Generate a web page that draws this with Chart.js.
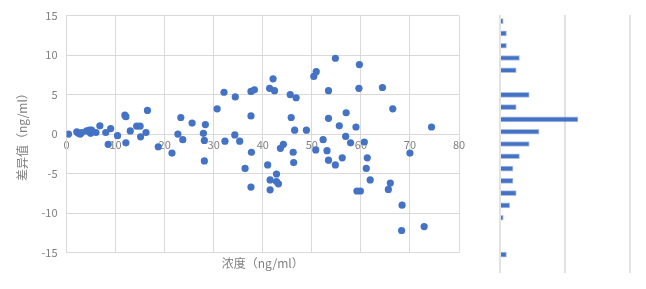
<!DOCTYPE html>
<html>
<head>
<meta charset="utf-8">
<script src="https://cdn.jsdelivr.net/npm/chart.js@4/dist/chart.umd.min.js"></script>
<style>
  body { margin: 0; background: #fff; }
  #wrap { position: relative; width: 646px; height: 289px; }
  #scatter { position: absolute; left: 0; top: 0; }
  #hist { position: absolute; left: 480px; top: 0; }
</style>
</head>
<body>
<div id="wrap">
  <canvas id="scatter" width="480" height="289"></canvas>
  <canvas id="hist" width="166" height="289"></canvas>
</div>
<script>
// concentration (x) and difference (y)
var concX = [
  0.4, 2.1, 2.4, 2.8, 3.1, 4.1, 4.7, 4.9, 5.1, 6.0,
  6.8, 8.0, 9.0, 10.4, 11.9, 12.1, 13.0, 14.3, 15.0, 15.1,
  16.2, 16.5, 12.1, 8.5, 18.7, 21.5, 22.7, 23.3, 23.7, 25.6,
  28.3, 27.9, 28.1, 30.7, 32.1, 32.3, 34.4, 34.3, 35.3, 37.6,
  38.3, 37.6, 37.7, 41.4, 42.1, 42.4, 43.6, 44.2, 45.6, 46.8,
  45.8, 46.5, 48.9, 46.2, 50.4, 50.9, 52.3, 50.8, 28.1, 36.4,
  37.6, 41.0, 41.5, 41.5, 42.8, 42.8, 43.2, 46.3, 54.8, 59.7,
  53.4, 59.6, 64.4, 66.5, 53.4, 57.0, 55.6, 59.0, 74.4, 56.9,
  57.9, 60.7, 53.1, 70.0, 53.4, 54.8, 56.2, 61.3, 61.1, 61.9,
  59.2, 59.9, 66.0, 65.6, 68.4, 68.3, 72.9
];
var diffY = [
  0, 0.3, 0.1, 0, 0.2, 0.4, 0.5, 0.1, 0.5, 0.2,
  1.05, 0.2, 0.7, -0.2, 2.4, 2.2, 0.4, 1.0, 1.0, -0.35,
  0.2, 3.0, -1.1, -1.3, -1.6, -2.4, 0, 2.1, -0.7, 1.4,
  1.2, 0.1, -0.8, 3.2, 5.3, -0.9, 4.7, -0.1, -0.9, 5.4,
  5.6, 2.3, -2.3, 5.8, 7.0, 5.5, -1.8, -1.3, 5.0, 4.6,
  2.1, 0.5, 0.5, -2.3, 7.3, 7.9, -0.7, -2.0, -3.4, -4.35,
  -6.7, -3.9, -5.8, -7.05, -5.05, -6.0, -6.3, -3.6, 9.6, 8.8,
  5.5, 5.8, 5.9, 3.2, 2.0, 2.7, 1.05, 0.9, 0.9, -0.3,
  -1.1, -1.0, -2.1, -2.4, -3.3, -3.9, -3.0, -3.0, -4.35, -5.8,
  -7.2, -7.2, -6.2, -7.0, -9.0, -12.2, -11.7
];

// histogram of the differences, top bin first
var histBins = ['1', '2', '3', '4', '5', '6', '7', '8', '9', '10', '11',
  '12', '13', '14', '15', '16', '17', '18', '19', '20', '21'];
var histCounts = [1, 2, 2, 6, 5, 0, 9, 5, 24, 12, 9, 6, 4, 4, 5, 3, 1, 0, 0, 2, 0];

var blue = '#4472C4';
var gridGray = '#d9d9d9';
var textGray = '#7f7f7f';

Chart.defaults.font.family = '"Noto Sans CJK SC", "Noto Sans", sans-serif';
Chart.defaults.color = textGray;

//--------------- scatter ---------------//
var points = concX.map(function (x, i) {
  return { x: x, y: diffY[i] };
});

const scatter = new Chart(document.getElementById('scatter'), {
  type: 'scatter',
  data: {
    datasets: [{
      data: points,
      backgroundColor: blue,
      borderColor: blue,
      pointRadius: 3.6,
      borderWidth: 0
    }]
  },
  options: {
    responsive: false,
    animation: false,
    layout: { padding: { left: 8, top: 15, right: 21, bottom: 18 } },
    plugins: { legend: { display: false }, tooltip: { enabled: false } },
    scales: {
      x: {
        type: 'linear',
        position: { y: 0 },
        min: 0, max: 80,
        ticks: { stepSize: 10, font: { size: 11 }, padding: 4, maxRotation: 0 },
        grid: { color: gridGray, drawTicks: false },
        border: { display: false }
      },
      x2: {
        type: 'linear',
        position: 'bottom',
        ticks: { display: false },
        grid: { display: false, drawTicks: false },
        border: { display: false },
        title: { display: true, text: '浓度（ng/ml）', font: { size: 12 }, color: textGray, padding: { top: 4, bottom: 0 } }
      },
      y: {
        min: -15, max: 15,
        ticks: { stepSize: 5, font: { size: 11 }, padding: 9 },
        grid: { color: gridGray, drawTicks: false },
        border: { color: gridGray },
        title: { display: true, text: '差异值（ng/ml）', font: { size: 12 }, color: textGray, padding: { top: 7, bottom: 0 } },
        afterFit: function (scale) { scale.width = 58.5; }
      }
    }
  }
});

//--------------- histogram ---------------//
const hist = new Chart(document.getElementById('hist'), {
  type: 'bar',
  data: {
    labels: histBins,
    datasets: [{
      data: histCounts,
      backgroundColor: blue,
      borderColor: 'rgba(68,114,196,0.45)',
      borderWidth: 1,
      barThickness: 5
    }]
  },
  options: {
    indexAxis: 'y',
    responsive: false,
    animation: false,
    layout: { padding: { left: 20, right: 16, top: 15, bottom: 16 } },
    plugins: { legend: { display: false }, tooltip: { enabled: false } },
    scales: {
      x: {
        min: 0, max: 40,
        ticks: { stepSize: 20, display: false },
        grid: { color: '#e2e2e2', lineWidth: 2, drawTicks: false },
        border: { display: false }
      },
      y: { display: false }
    }
  }
});
</script>
</body>
</html>
